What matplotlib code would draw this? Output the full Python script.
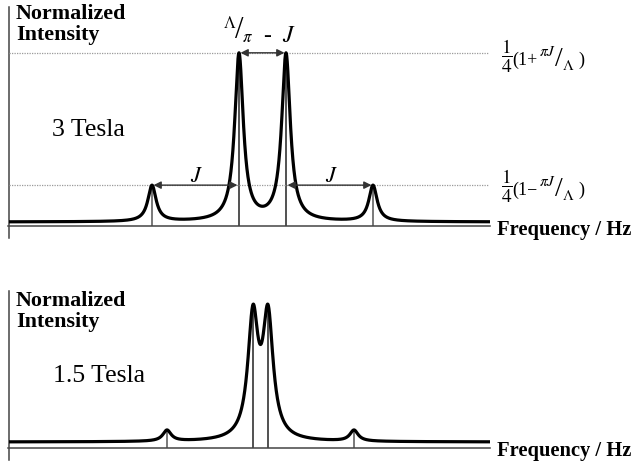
import numpy as np
import matplotlib
matplotlib.use("Agg")
from matplotlib import pyplot as plt

plt.rcParams['font.family'] = ['Liberation Serif', 'DejaVu Serif']
plt.rcParams['mathtext.fontset'] = 'stix'

# peak list (Hz relative to centre, intensity in arbitrary units)
peaks_3T = [-110.5, -23.5, 23.5, 110.5]
amps_3T = [36, 167, 167, 36]
widths_3T = [5.0, 5.2, 5.2, 5.0]
base_3T = 4

peaks_15T = [-93.5, -7.5, 7.5, 93.5]
amps_15T = [11, 120, 120, 11]
widths_15T = [5.0, 6.2, 6.2, 5.0]
base_15T = 6

field_labels = ["3 Tesla", "1.5 Tesla"]
y_title = "Normalized\nIntensity"
x_title = "Frequency / Hz"

W, H = 644, 464
fig = plt.figure(figsize=(W / 100, H / 100), dpi=100)

def fx(x):
    return x / W

def fy(y):
    return 1 - y / H

def spectrum(f, centres, amps, widths, base):
    s = np.full_like(f, base, dtype=float)
    for c, a, g in zip(centres, amps, widths):
        s += a * g**2 / ((f - c)**2 + g**2)
    return s

def panel(top_px, axis_px, centre_px, centres, amps, widths, base):
    ax = fig.add_axes([fx(9), fy(axis_px), fx(490 - 9), (axis_px - top_px) / H])
    ax.set_xlim(9 - centre_px, 490 - centre_px)
    ax.set_ylim(0, axis_px - top_px)
    ax.axis('off')
    f = np.linspace(9 - centre_px, 490 - centre_px, 4000)
    ax.plot(f, spectrum(f, centres, amps, widths, base), color='black', lw=2.3,
            solid_joinstyle='round', zorder=3)
    tops = spectrum(np.array(centres, dtype=float), centres, amps, widths, base)
    for i, (c, t) in enumerate(zip(centres, tops)):
        col = '#222222' if i in (1, 2) else '#555555'
        ax.plot([c, c], [0, t], color=col, lw=1.1, zorder=2)
    # axes lines
    ax.axhline(0, xmin=-1 / 481, xmax=1, color='#444444', lw=1.1, clip_on=False)
    ax.axvline(9 - centre_px, ymin=-12 / (axis_px - top_px), ymax=1, color='#444444',
               lw=1.1, clip_on=False)
    return ax, tops

def slashfrac(x, y, num, den, small, big):
    # num up-left, big slash, den down-right (x, y = centre of slash, pixels)
    fig.text(fx(x - 3), fy(y - 7), num, fontsize=small, ha='right', va='center')
    fig.text(fx(x), fy(y), '/', fontsize=big, ha='center', va='center')
    fig.text(fx(x + 3), fy(y + 7), den, fontsize=small, ha='left', va='center')

# top panel: 3 Tesla
ax1, tops1 = panel(8, 227, 262.5, peaks_3T, amps_3T, widths_3T, base_3T)
hi = tops1[1]
lo = tops1[0]
for level in (hi, lo):
    ax1.axhline(level, xmin=0, xmax=479 / 481, color='#9a9a9a', lw=0.9, ls=(0, (1, 1)))

arrow = dict(arrowstyle='<|-|>', color='#333333', lw=1.0, mutation_scale=11,
             shrinkA=0, shrinkB=0)
ax1.annotate('', xy=(peaks_3T[1] + 1.5, hi), xytext=(peaks_3T[2] - 1.5, hi), arrowprops=arrow)
ax1.annotate('', xy=(peaks_3T[0] + 1.5, lo), xytext=(peaks_3T[1] - 1.5, lo), arrowprops=arrow)
ax1.annotate('', xy=(peaks_3T[2] + 1.5, lo), xytext=(peaks_3T[3] - 1.5, lo), arrowprops=arrow)

# bottom panel: 1.5 Tesla
ax2, tops2 = panel(292, 449, 260.5, peaks_15T, amps_15T, widths_15T, base_15T)

# texts
for ytop in (4, 291):
    fig.text(fx(16), fy(ytop), y_title, fontsize=15.8, fontweight='bold', va='top',
             ha='left', linespacing=1.05)
fig.text(fx(52), fy(136), field_labels[0], fontsize=18.5, va='baseline')
fig.text(fx(53), fy(382), field_labels[1], fontsize=18.5, va='baseline')
fig.text(fx(497), fy(235), x_title, fontsize=14.8, fontweight='bold', va='baseline')
fig.text(fx(497), fy(456), x_title, fontsize=14.8, fontweight='bold', va='baseline')

for dy, sign in ((0, '+'), (130, '\u2212')):
    fig.text(fx(501), fy(56 + dy), r'$\dfrac{1}{4}$', fontsize=14, va='center', ha='left')
    fig.text(fx(512), fy(60 + dy), '(1' + sign, fontsize=13, va='center', ha='left')
    slashfrac(559, 59 + dy, r'$\pi J$', r'$\Lambda$', 11, 20)
    fig.text(fx(578), fy(60 + dy), ')', fontsize=13, va='center', ha='left')

slashfrac(239, 31, r'$\Lambda$', r'$\pi$', 12, 22)
fig.text(fx(263), fy(36), r'-  $J$', fontsize=17, va='center', ha='left')
fig.text(fx(197), fy(177), r'$J$', fontsize=16, va='center', ha='center')
fig.text(fx(332), fy(177), r'$J$', fontsize=16, va='center', ha='center')

fig.savefig('out.png', dpi=100)
